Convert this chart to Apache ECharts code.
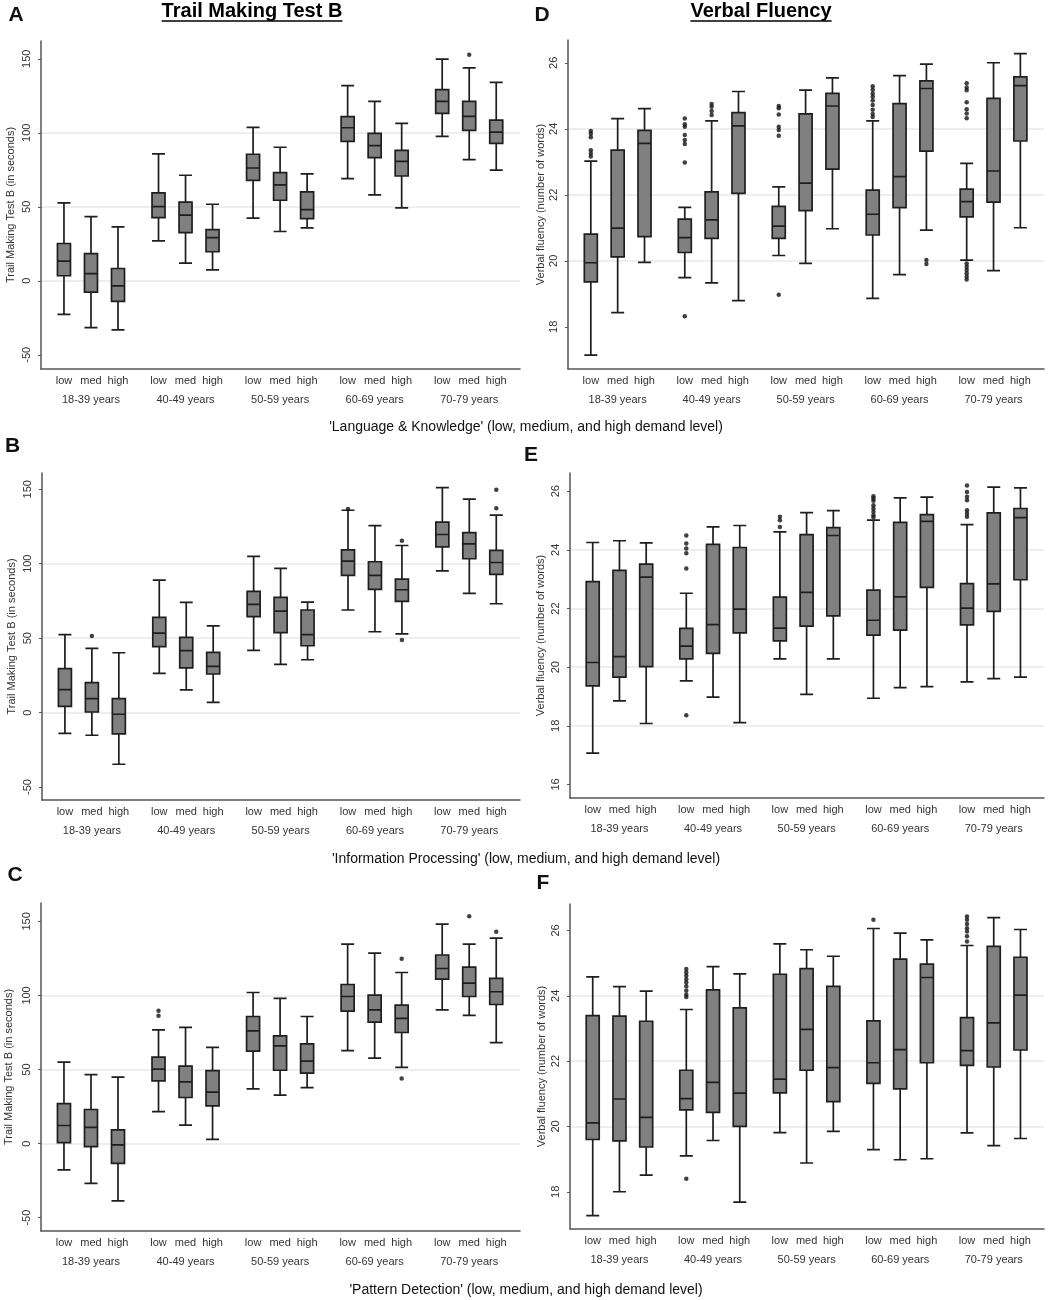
<!DOCTYPE html>
<html>
<head>
<meta charset="utf-8">
<script src="https://cdn.jsdelivr.net/npm/echarts@6/dist/echarts.min.js"></script>
<style>
  html, body { margin: 0; padding: 0; background: #fff; }
  #main { width: 1052px; height: 1300px; }
</style>
</head>
<body>
<div id="main"></div>
<script>
var ageGroups = ['18-39 years', '40-49 years', '50-59 years', '60-69 years', '70-79 years'];
var levels = ['low', 'med', 'high'];
var tmtTicks = [-50, 0, 50, 100, 150];

// boxes: [min, Q1, median, Q3, max], low/med/high inside each age group
var tmtLangBox = [
  [-22.7, 3.4, 13.3, 25.2, 52.6], [-31.7, -7.6, 4.9, 18.4, 43.4], [-33.1, -13.9, -3.4, 8.3, 36.4],
  [27.0, 42.7, 50.1, 59.4, 85.7], [11.9, 32.6, 44.3, 53.1, 71.3], [7.4, 19.6, 29.2, 34.6, 51.7],
  [42.3, 67.9, 76.2, 85.5, 103.7], [33.3, 54.4, 64.8, 73.1, 90.2], [35.8, 42.0, 48.1, 60.0, 72.2],
  [69.0, 94.2, 103.4, 110.9, 131.8], [58.0, 83.2, 91.3, 99.6, 121.2], [49.2, 70.8, 80.7, 88.1, 106.4],
  [97.6, 113.1, 121.2, 129.1, 149.8], [81.9, 101.6, 111.1, 121.2, 143.9], [74.7, 92.9, 100.5, 108.6, 134.0]
];
// outliers: [box index, value]
var tmtLangOut = [[13, 152.7]];

var tmtInfoBox = [
  [-13.9, 4.2, 15.4, 29.5, 52.3], [-15.2, 0.4, 9.4, 20.1, 43.1], [-34.7, -14.3, -1.1, 9.4, 40.2],
  [26.4, 44.3, 53.4, 63.9, 89.0], [15.2, 30.0, 41.6, 50.5, 74.0], [6.9, 25.9, 31.1, 40.5, 58.3],
  [41.8, 64.4, 72.7, 81.4, 104.9], [32.4, 53.7, 68.2, 77.4, 96.8], [35.5, 44.9, 52.3, 68.9, 74.2],
  [68.9, 92.1, 101.7, 109.3, 135.9], [54.3, 82.7, 92.1, 101.3, 125.6], [52.8, 74.7, 82.5, 89.6, 112.2],
  [95.2, 111.3, 119.6, 127.9, 151.1], [80.0, 103.3, 113.3, 120.9, 143.3], [73.1, 92.8, 100.8, 108.9, 132.6]
];
var tmtInfoOut = [[1, 51.4], [9, 136.8], [11, 115.4], [11, 48.7], [14, 149.6], [14, 137.3]];

var tmtPattBox = [
  [-17.8, 0.7, 12.2, 27.0, 55.0], [-26.8, -2.0, 11.0, 23.0, 46.6], [-38.7, -13.3, -0.9, 9.2, 44.8],
  [21.6, 42.3, 50.2, 58.3, 76.8], [12.4, 31.1, 41.7, 52.3, 78.4], [2.9, 25.5, 34.7, 49.3, 64.9],
  [36.9, 62.4, 76.1, 85.8, 102.0], [32.7, 49.5, 66.0, 72.7, 98.0], [37.8, 47.5, 55.6, 67.3, 85.8],
  [62.8, 89.4, 99.3, 107.4, 134.7], [57.7, 82.0, 90.3, 100.2, 128.6], [51.4, 75.0, 84.5, 93.5, 115.5],
  [90.3, 111.0, 118.2, 127.3, 148.2], [86.5, 99.3, 108.3, 119.1, 134.7], [68.2, 93.9, 102.5, 111.5, 138.7]
];
var tmtPattOut = [[3, 89.6], [3, 86.3], [11, 124.8], [11, 43.9], [13, 153.4], [14, 143.0]];

var vfLangBox = [
  [17.14, 19.36, 19.94, 20.81, 23.02], [18.43, 20.12, 20.99, 23.35, 24.31], [19.95, 20.73, 23.56, 23.95, 24.61],
  [19.49, 20.25, 20.70, 21.26, 21.62], [19.33, 20.68, 21.24, 22.09, 24.24], [18.79, 22.04, 24.09, 24.49, 25.13],
  [20.16, 20.68, 21.05, 21.65, 22.24], [19.92, 21.52, 22.35, 24.45, 25.17], [20.97, 22.78, 24.69, 25.07, 25.54],
  [18.86, 20.78, 21.41, 22.14, 24.24], [19.58, 21.61, 22.55, 24.76, 25.61], [20.93, 23.32, 25.22, 25.45, 25.96],
  [20.02, 21.33, 21.79, 22.17, 22.95], [19.70, 21.78, 22.72, 24.92, 26.00], [21.00, 23.63, 25.31, 25.57, 26.28]
];
var vfLangOut = [
  [0, 23.93], [0, 23.85], [0, 23.74], [0, 23.35], [0, 23.25], [0, 23.16],
  [3, 24.31], [3, 24.14], [3, 24.06], [3, 23.81], [3, 23.66], [3, 23.54], [3, 22.98], [3, 18.32],
  [4, 24.75], [4, 24.67], [4, 24.54], [4, 24.42],
  [6, 24.69], [6, 24.62], [6, 24.43], [6, 24.06], [6, 23.96], [6, 23.79], [6, 18.97],
  [9, 25.29], [9, 25.18], [9, 25.07], [9, 24.97], [9, 24.86], [9, 24.72], [9, 24.58], [9, 24.45], [9, 24.36],
  [11, 20.02], [11, 19.9],
  [12, 25.38], [12, 25.25], [12, 25.17], [12, 24.8], [12, 24.59], [12, 24.46], [12, 24.32],
  [12, 19.92], [12, 19.82], [12, 19.72], [12, 19.62], [12, 19.52], [12, 19.43]
];

var vfInfoBox = [
  [17.07, 19.36, 20.16, 22.92, 24.25], [18.85, 19.66, 20.36, 23.30, 24.31], [18.08, 20.02, 23.07, 23.51, 24.24],
  [19.53, 20.28, 20.72, 21.32, 22.52], [18.98, 20.47, 21.45, 24.19, 24.78], [18.11, 21.17, 21.98, 24.08, 24.83],
  [20.28, 20.90, 21.33, 22.39, 24.61], [19.07, 21.40, 22.55, 24.52, 25.27], [20.28, 21.75, 24.49, 24.76, 25.34],
  [18.94, 21.09, 21.60, 22.63, 25.01], [19.30, 21.26, 22.40, 24.94, 25.77], [19.34, 22.72, 24.97, 25.20, 25.80],
  [19.50, 21.44, 22.01, 22.85, 24.86], [19.61, 21.90, 22.84, 25.26, 26.14], [19.66, 22.98, 25.10, 25.41, 26.11]
];
var vfInfoOut = [
  [3, 24.49], [3, 24.22], [3, 24.05], [3, 23.88], [3, 23.36], [3, 18.36],
  [6, 25.13], [6, 25.01], [6, 24.78],
  [9, 25.83], [9, 25.75], [9, 25.67], [9, 25.52], [9, 25.41], [9, 25.3], [9, 25.18], [9, 25.1],
  [12, 26.19], [12, 25.97], [12, 25.81], [12, 25.69], [12, 25.35], [12, 25.24], [12, 25.13]
];

var vfPattBox = [
  [17.27, 19.60, 20.11, 23.39, 24.58], [18.00, 19.56, 20.84, 23.38, 24.28], [18.51, 19.37, 20.28, 23.22, 24.14],
  [19.10, 20.51, 20.85, 21.72, 23.58], [19.57, 20.43, 21.35, 24.18, 24.89], [17.68, 20.00, 21.02, 23.63, 24.67],
  [19.81, 21.03, 21.45, 24.66, 25.59], [18.88, 21.72, 22.97, 24.83, 25.41], [19.85, 20.76, 21.80, 24.29, 25.21],
  [19.29, 21.32, 21.95, 23.23, 26.06], [18.98, 21.15, 22.35, 25.12, 25.92], [19.01, 21.95, 24.56, 24.97, 25.71],
  [19.80, 21.87, 22.32, 23.33, 25.54], [19.41, 21.82, 23.17, 25.51, 26.39], [19.63, 22.34, 24.02, 25.18, 26.03]
];
var vfPattOut = [
  [3, 24.82], [3, 24.71], [3, 24.61], [3, 24.51], [3, 24.41], [3, 24.29], [3, 24.16], [3, 24.04], [3, 23.96], [3, 18.4],
  [9, 26.33],
  [12, 26.43], [12, 26.33], [12, 26.2], [12, 26.07], [12, 25.97], [12, 25.82], [12, 25.66]
];

var FONT = '"Liberation Sans", Arial, sans-serif';
var TMT_NAME = 'Trail Making Test B (in seconds)';
var VF_NAME = 'Verbal fluency (number of words)';

var panels = [
  {box: tmtLangBox, out: tmtLangOut, left: 41, top: 41, width: 479, height: 328, min: -59.6, max: 162, step: 50, ticks: tmtTicks, name: TMT_NAME, gap: 25},
  {box: tmtInfoBox, out: tmtInfoOut, left: 42, top: 473, width: 478, height: 327, min: -58.7, max: 160.9, step: 50, ticks: tmtTicks, name: TMT_NAME, gap: 25},
  {box: tmtPattBox, out: tmtPattOut, left: 41, top: 903, width: 479, height: 328, min: -59, max: 162.4, step: 50, ticks: tmtTicks, name: TMT_NAME, gap: 27},
  {box: vfLangBox, out: vfLangOut, left: 568, top: 40, width: 476, height: 329, min: 16.72, max: 26.69, step: 2, ticks: [18, 20, 22, 24, 26], name: VF_NAME, gap: 22},
  {box: vfInfoBox, out: vfInfoOut, left: 570, top: 473, width: 474, height: 325, min: 15.54, max: 26.62, step: 2, ticks: [16, 18, 20, 22, 24, 26], name: VF_NAME, gap: 24},
  {box: vfPattBox, out: vfPattOut, left: 570, top: 904, width: 474, height: 325, min: 16.86, max: 26.81, step: 2, ticks: [18, 20, 22, 24, 26], name: VF_NAME, gap: 23}
];

// three boxes per age group, wider gap between groups
function boxPos(i) { return Math.floor(i / 3) * 3.5 + i % 3; }
var positions = [], groupCenters = [];
for (var i = 0; i < 15; i++) positions.push(boxPos(i));
for (var g = 0; g < ageGroups.length; g++) groupCenters.push(boxPos(g * 3 + 1));

function indexAt(list, v) {
  for (var i = 0; i < list.length; i++) if (Math.abs(list[i] - v) < 1e-6) return i;
  return -1;
}
function levelLabel(v) { var i = indexAt(positions, v); return i < 0 ? '' : levels[i % 3]; }
function groupLabel(v) { var i = indexAt(groupCenters, v); return i < 0 ? '' : ageGroups[i]; }

var grids = [], xAxes = [], yAxes = [], series = [];
panels.forEach(function (p, n) {
  grids.push({left: p.left, top: p.top, width: p.width, height: p.height, containLabel: false, outerBoundsMode: 'none'});
  // demand level row
  xAxes.push({
    gridIndex: n, type: 'value', position: 'bottom', min: -0.85, max: 16.88,
    axisLine: {show: true, onZero: false, lineStyle: {color: '#555', width: 1.5}},
    axisTick: {show: false},
    splitLine: {show: false},
    axisLabel: {
      customValues: positions, formatter: levelLabel, showMinLabel: true, showMaxLabel: true,
      fontSize: 11, fontFamily: FONT, color: '#333', margin: 6
    }
  });
  // age group row
  xAxes.push({
    gridIndex: n, type: 'value', position: 'bottom', min: -0.85, max: 16.88,
    axisLine: {show: false, onZero: false},
    axisTick: {show: false},
    splitLine: {show: false},
    axisLabel: {
      customValues: groupCenters, formatter: groupLabel, showMinLabel: true, showMaxLabel: true,
      fontSize: 11, fontFamily: FONT, color: '#333', margin: 25
    }
  });
  yAxes.push({
    gridIndex: n, type: 'value', min: p.min, max: p.max,
    minInterval: p.step, maxInterval: p.step,
    name: p.name, nameLocation: 'middle', nameGap: p.gap,
    nameTextStyle: {fontSize: 11, fontFamily: FONT, color: '#333'},
    axisLine: {show: true, onZero: false, lineStyle: {color: '#555', width: 1.5}},
    axisTick: {show: true, length: 3, customValues: p.ticks, lineStyle: {color: '#555', width: 1}},
    axisLabel: {customValues: p.ticks, rotate: 90, fontSize: 11, fontFamily: FONT, color: '#333', margin: 9},
    splitLine: {show: true, showMinLine: false, showMaxLine: false, lineStyle: {color: '#eeeeee', width: 2}}
  });
  series.push({
    type: 'boxplot', xAxisIndex: 2 * n, yAxisIndex: n, silent: true,
    boxWidth: [13, 13],
    itemStyle: {color: '#808080', borderColor: '#1e1e1e', borderWidth: 1.7},
    data: p.box.map(function (b, j) { return [boxPos(j)].concat(b); })
  });
  series.push({
    type: 'scatter', xAxisIndex: 2 * n, yAxisIndex: n, silent: true,
    symbolSize: 4.5, itemStyle: {color: '#111'},
    data: p.out.map(function (o) { return [boxPos(o[0]), o[1]]; })
  });
});

// underline widths from the rendered title text
var measure = document.createElement('canvas').getContext('2d');
function textWidth(text, font) { measure.font = font; return measure.measureText(text).width; }
var titleFont = 'bold 20px ' + FONT;
function titleWithLine(text, cx) {
  var w = textWidth(text, titleFont);
  return [
    {type: 'text', x: cx, y: 11, style: {text: text, font: titleFont, fill: '#000', align: 'center', verticalAlign: 'middle', textAlign: 'center', textVerticalAlign: 'middle'}},
    {type: 'line', shape: {x1: cx - w / 2, y1: 21, x2: cx + w / 2, y2: 21}, style: {stroke: '#000', lineWidth: 1.6}}
  ];
}
function txt(text, x, y, font) {
  return {type: 'text', x: x, y: y, style: {text: text, font: font, fill: '#111', align: 'center', verticalAlign: 'middle', textAlign: 'center', textVerticalAlign: 'middle'}};
}
var letterFont = 'bold 21px ' + FONT;
var captionFont = '14px ' + FONT;
var graphics = [].concat(
  titleWithLine('Trail Making Test B', 252),
  titleWithLine('Verbal Fluency', 761),
  [
    txt('A', 16, 15, letterFont), txt('B', 12.5, 446, letterFont), txt('C', 15, 875, letterFont),
    txt('D', 542, 15, letterFont), txt('E', 531, 455, letterFont), txt('F', 543, 883, letterFont),
    txt("'Language & Knowledge' (low, medium, and high demand level)", 526, 427, captionFont),
    txt("'Information Processing' (low, medium, and high demand level)", 526, 859, captionFont),
    txt("'Pattern Detection' (low, medium, and high demand level)", 526, 1290, captionFont)
  ]
);

var chart = echarts.init(document.getElementById('main'), null, {renderer: 'canvas'});
chart.setOption({
  backgroundColor: '#fff',
  animation: false,
  grid: grids,
  xAxis: xAxes,
  yAxis: yAxes,
  graphic: graphics,
  series: series
});
</script>
</body>
</html>
